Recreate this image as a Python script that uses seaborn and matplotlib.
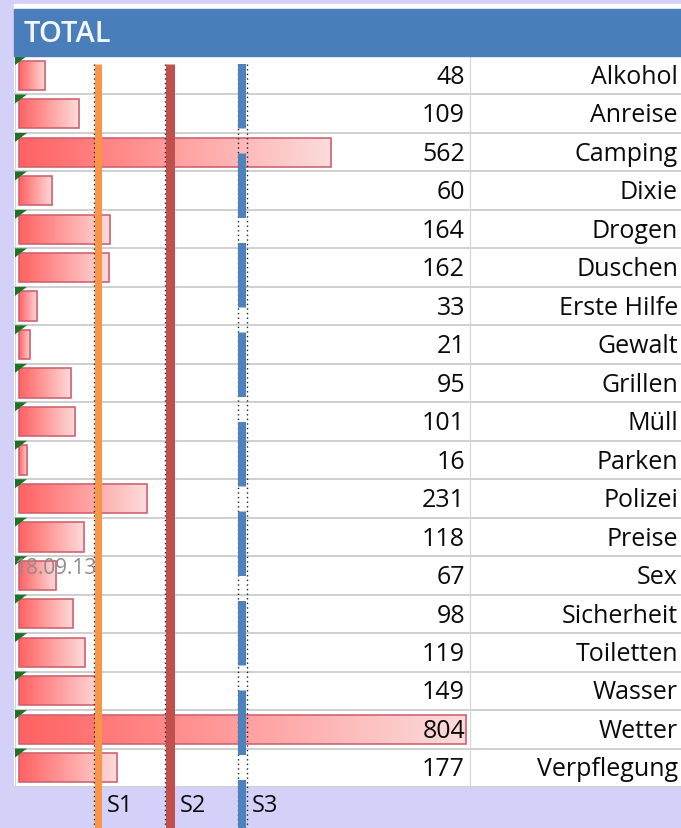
import numpy as np
import matplotlib
matplotlib.use('Agg')
import matplotlib.pyplot as plt
import seaborn as sns
from matplotlib.colors import LinearSegmentedColormap
from matplotlib.patches import Rectangle, Polygon
from matplotlib.transforms import blended_transform_factory, ScaledTranslation

# data
categories = ['Alkohol', 'Anreise', 'Camping', 'Dixie', 'Drogen', 'Duschen',
              'Erste Hilfe', 'Gewalt', 'Grillen', 'Müll', 'Parken', 'Polizei',
              'Preise', 'Sex', 'Sicherheit', 'Toiletten', 'Wasser', 'Wetter',
              'Verpflegung']
counts = [48, 109, 562, 60, 164, 162, 33, 21, 95, 101, 16, 231, 118, 67, 98,
          119, 149, 804, 177]
marker_names = ['S1', 'S2', 'S3']
marker_values = [142, 273, 402]
marker_colors = ['#f79646', '#c0504d', '#4f81bd']
header = 'TOTAL'
date_stamp = '18.09.13'

sns.set_theme(style='white')
plt.rcParams['font.family'] = ['Open Sans', 'DejaVu Sans']
plt.rcParams['lines.scale_dashes'] = False

W, H = 681, 829
PX = 72 / 100  # points per pixel at dpi 100
fig = plt.figure(figsize=(W / 100, H / 100), dpi=100, facecolor='#d4d1f9')

# table body: pixel box x 14..681, y 57..788
ax = fig.add_axes([14 / W, 1 - 788 / H, 667 / W, (788 - 57) / H])
ax.set_facecolor('white')
k = (466 - 18.5) / max(counts)  # pixels per unit

sns.barplot(x=counts, y=categories, orient='h', width=0.76, color='#ff6b6b',
            ax=ax, zorder=2)

cmap = LinearSegmentedColormap.from_list('bar', ['#ff6262', '#ff9f9f', '#fcdcdc'])
grad = np.linspace(0, 1, 256).reshape(1, -1)
for p in ax.patches:
    x0, y0, w, h = p.get_x(), p.get_y(), p.get_width(), p.get_height()
    p.set_facecolor('none')
    p.set_edgecolor('#cf5f6e')
    p.set_linewidth(1.6 * PX)
    im = ax.imshow(grad, cmap=cmap, extent=[x0, x0 + w, y0 + h, y0],
                   aspect='auto', zorder=1, interpolation='bilinear')
    im.set_clip_path(p)

n = len(categories)
ax.set_xlim(-(18.5 - 14) / k, (681 - 18.5) / k)
ax.set_ylim(n - 0.5, -0.5)
ax.set_xticks([])
ax.set_yticks([])
ax.set_xlabel('')
ax.set_ylabel('')
for s in ax.spines.values():
    s.set_visible(False)

# grid lines
for i in range(n + 1):
    ax.axhline(i - 0.5, color='#cbcbcb', lw=1.8 * PX, zorder=0.5)
ax.axvline((470 - 18.5) / k, color='#d6d6d6', lw=1.2 * PX, zorder=0.5)
ax.axvline(-(18.5 - 14.5) / k, color='#d6d6d6', lw=1.2 * PX, zorder=0.5)

# text columns
tr = blended_transform_factory(ax.transAxes, ax.transData)
for i, (c, v) in enumerate(zip(categories, counts)):
    ax.text((465 - 14) / 667, i + 0.03, str(v), transform=tr, ha='right',
            va='center', fontsize=18, color='#0a0a0a', zorder=5)
    ax.text((678 - 14) / 667, i + 0.03, c, transform=tr, ha='right',
            va='center', fontsize=18, color='#0a0a0a', zorder=5)
    tri = Polygon([(1 / 667, i - 0.5), (13 / 667, i - 0.5),
                   (1 / 667, i - 0.5 + 9 / 38.5)], closed=True,
                  transform=tr, color='#1d7325', zorder=4, lw=0)
    ax.add_patch(tri)

# header
fig.patches.append(Rectangle((14 / W, 1 - 10 / H), 667 / W, 5 / H,
                             transform=fig.transFigure, color='white', zorder=0))
fig.patches.append(Rectangle((14 / W, 1 - 57 / H), 667 / W, 47 / H,
                             transform=fig.transFigure, color='#4a7ebb', zorder=1))
fig.text(24 / W, 1 - 34 / H, header, color='#f2f6fb', fontsize=21,
         fontweight='semibold', ha='left', va='center')

fig.text(14 / W, 1 - 568 / H, date_stamp, color='#8c8c8c', fontsize=15,
         ha='left', va='center', zorder=6)

# threshold lines S1..S3, running from y=65px down past the table
tv = blended_transform_factory(ax.transData, fig.transFigure)
y_top = 1 - 65 / H
widths_px = [7, 9, 8]
for name, xv, col, wpx in zip(marker_names, marker_values, marker_colors, widths_px):
    ls = (0, (64.5 * PX, 25 * PX)) if name == 'S3' else '-'
    ax.plot([xv, xv], [y_top, 0], transform=tv, color=col, lw=wpx * PX,
            ls=ls, solid_capstyle='butt', dash_capstyle='butt',
            clip_on=False, zorder=6)
    for dx in ([-(wpx / 2 + 0.5)] if name != 'S3' else [-(wpx / 2 + 0.5), wpx / 2 + 0.5]):
        off = tv + ScaledTranslation(dx / 100, 0, fig.dpi_scale_trans)
        ax.plot([xv, xv], [y_top, 0], transform=off, color='#222222',
                lw=1.4 * PX, ls=(0, (1.4 * PX, 3.2 * PX)), clip_on=False,
                zorder=5.5)
    fig.text((18.5 + xv * k + 9.5) / W, 1 - 806 / H, name, fontsize=17,
             color='#0a0a0a', ha='left', va='center')

fig.savefig('out.png', dpi=100, facecolor=fig.get_facecolor())
